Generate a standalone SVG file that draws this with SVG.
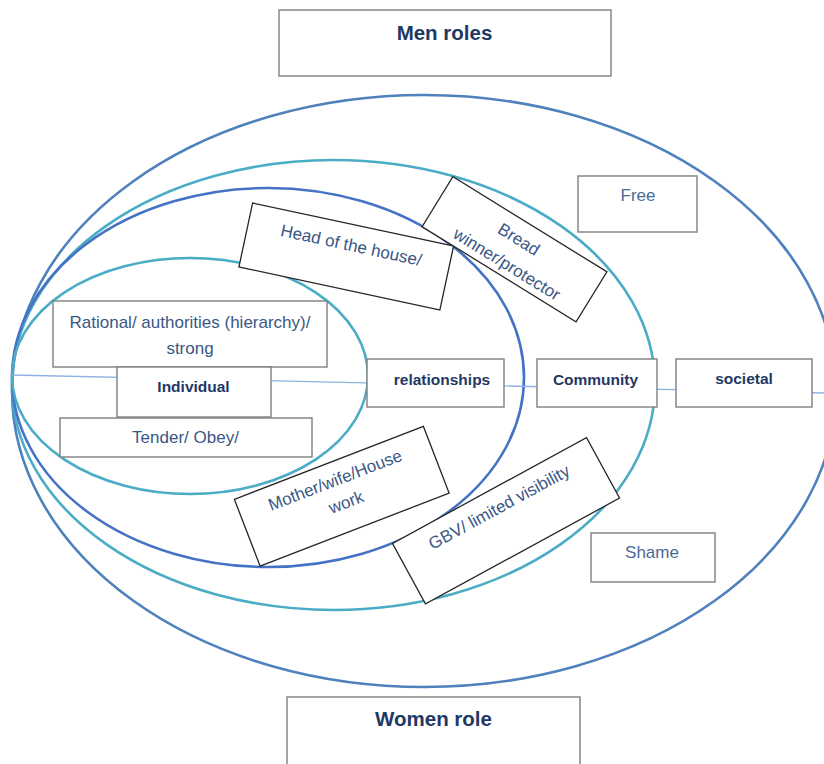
<svg xmlns="http://www.w3.org/2000/svg" width="824" height="764" viewBox="0 0 824 764">
<style>
  .ring{fill:none;stroke-width:2.6}
  .box{fill:#fff;stroke:#7f7f7f;stroke-width:1.4}
  .rbox{fill:#fff;stroke:#262626;stroke-width:1.3}
  .t{font-family:"Liberation Sans",Arial,sans-serif;font-size:17px;fill:#3a5784;text-anchor:middle}
  .b{font-family:"Liberation Sans",Arial,sans-serif;font-size:15.5px;font-weight:bold;fill:#1f3864;text-anchor:middle}
  .h{font-family:"Liberation Sans",Arial,sans-serif;font-size:20.5px;font-weight:bold;fill:#1f3864;text-anchor:middle}
  .axis{stroke:#8db3e2;stroke-width:1.3;fill:none}
</style>
<rect width="824" height="764" fill="#fff"/>
<g id="rings">
  <ellipse class="ring" cx="424" cy="391" rx="412" ry="296" stroke="#4f81bd"/>
  <ellipse class="ring" cx="333.5" cy="385" rx="321.5" ry="225" stroke="#4bacc6"/>
  <ellipse class="ring" cx="268" cy="377.5" rx="256" ry="189.5" stroke="#4472c4"/>
  <ellipse class="ring" cx="190" cy="376" rx="178" ry="118" stroke="#4bacc6"/>
</g>
<g id="connectors">
  <line class="axis" x1="12" y1="375" x2="824" y2="393"/>
</g>
<g id="men-roles">
  <rect class="box" x="279" y="10" width="332" height="66"/>
  <text class="h" x="444.5" y="40">Men roles</text>
</g>
<g id="women-role">
  <rect class="box" x="287" y="697" width="293" height="80"/>
  <text class="h" x="433.5" y="726">Women role</text>
</g>
<g id="rational">
  <rect class="box" x="53" y="301" width="274" height="66"/>
  <text class="t" x="190" y="327.5">Rational/ authorities (hierarchy)/</text>
  <text class="t" x="190" y="354">strong</text>
</g>
<g id="individual">
  <rect class="box" x="117" y="367" width="154" height="50"/>
  <text class="b" x="193.5" y="392">Individual</text>
</g>
<g id="tender">
  <rect class="box" x="60" y="418" width="252" height="39"/>
  <text class="t" x="185.5" y="443">Tender/ Obey/</text>
</g>
<g id="relationships">
  <rect class="box" x="367" y="359" width="137" height="48"/>
  <text class="b" x="442" y="384.5">relationships</text>
</g>
<g id="community">
  <rect class="box" x="537" y="359" width="120" height="48"/>
  <text class="b" x="595.5" y="384.5">Community</text>
</g>
<g id="societal">
  <rect class="box" x="676" y="359" width="136" height="48"/>
  <text class="b" x="744" y="384">societal</text>
</g>
<g id="free">
  <rect class="box" x="578" y="176" width="119" height="56"/>
  <text class="t" x="638" y="201" style="fill:#4a6a96">Free</text>
</g>
<g id="shame">
  <rect class="box" x="591" y="533" width="124" height="49"/>
  <text class="t" x="652" y="558" style="fill:#4a6a96">Shame</text>
</g>
<g id="head-of-house" transform="translate(346.25,256.5) rotate(12.1)">
  <rect class="rbox" x="-102.75" y="-32.65" width="205.5" height="65.3"/>
  <text class="t" x="2.5" y="-6.3">Head of the house/</text>
</g>
<g id="bread-winner" transform="translate(514.5,249.25) rotate(31.7)">
  <rect class="rbox" x="-90.5" y="-29.35" width="181" height="58.7"/>
  <text class="t" x="-1.5" y="-5">Bread</text>
  <text class="t" x="1.4" y="22.4">winner/protector</text>
</g>
<g id="mother-wife" transform="translate(341.75,496.25) rotate(-21.1)">
  <rect class="rbox" x="-101.3" y="-35.75" width="202.6" height="71.5"/>
  <text class="t" x="-0.5" y="-11.6">Mother/wife/House</text>
  <text class="t" x="1.9" y="12.9">work</text>
</g>
<g id="gbv" transform="translate(506,520.75) rotate(-28.6)">
  <rect class="rbox" x="-110.5" y="-34.45" width="221" height="68.9"/>
  <text class="t" x="0.4" y="-9.4">GBV/ limited visibility</text>
</g>
</svg>
